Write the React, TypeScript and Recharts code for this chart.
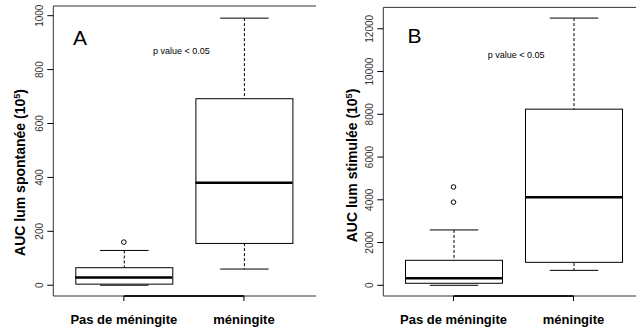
import React from 'react';
import {ComposedChart, Bar, Scatter, XAxis, YAxis, ReferenceLine, Customized} from 'recharts';

const FONT = "'Liberation Sans', Arial, Helvetica, sans-serif";

const groups = ['Pas de méningite', 'méningite'];

// A : AUC lum spontanée
const spontMin = [0, 60];
const spontQ1 = [4, 155];
const spontMedian = [29, 380];
const spontQ3 = [65, 692];
const spontMax = [129, 991];
const spontOutliers = [[160], []];
const spontTicks = [0, 200, 400, 600, 800, 1000];

// B : AUC lum stimulée
const stimMin = [0, 700];
const stimQ1 = [95, 1075];
const stimMedian = [330, 4115];
const stimQ3 = [1170, 8240];
const stimMax = [2590, 12500];
const stimOutliers = [[3890, 4600], []];
const stimTicks = [0, 2000, 4000, 6000, 8000, 10000, 12000];

function buildRows(min, q1, med, q3, max) {
	return groups.map((name, i) => ({
		name,
		whisker: [min[i], max[i]],
		box: [q1[i], q3[i]],
		median: med[i],
	}));
}

function buildOutliers(outliers) {
	const rows = [];
	outliers.forEach((vals, i) => vals.forEach((v) => rows.push({name: groups[i], value: v})));
	return rows;
}

const BOX_W = 97;

function Whisker(props) {
	const {x, y, width, height} = props;
	const top = Math.min(y, y + height);
	const bottom = Math.max(y, y + height);
	const cx = x + width / 2;
	const l = x + width / 4;
	const r = x + (width * 3) / 4;
	return (
		<g>
			<line x1={cx} x2={cx} y1={top} y2={bottom} stroke='#000' strokeDasharray='3 2'/>
			<line x1={l} x2={r} y1={top} y2={top} stroke='#000'/>
			<line x1={l} x2={r} y1={bottom} y2={bottom} stroke='#000'/>
		</g>
	);
}

function BoxShape(props) {
	const {x, y, width, height} = props;
	return (
		<rect
			x={x}
			y={Math.min(y, y + height)}
			width={width}
			height={Math.abs(height)}
			fill='#fff'
			stroke='#000'
		/>
	);
}

function MedianShape(props) {
	const {cx, cy} = props;
	return <line x1={cx - BOX_W / 2} x2={cx + BOX_W / 2} y1={cy} y2={cy} stroke='#000' strokeWidth={2.5}/>;
}

function OutlierShape(props) {
	const {cx, cy} = props;
	return <circle cx={cx} cy={cy} r={2.3} fill='#fff' stroke='#000' strokeWidth={1}/>;
}

function YTick(props) {
	const {x, y, payload} = props;
	const bx = x - 4;
	return (
		<text
			x={bx}
			y={y}
			transform={`rotate(-90 ${bx} ${y})`}
			textAnchor='middle'
			fontSize={10}
			fontFamily={FONT}
			fill='#333'
		>
			{payload.value}
		</text>
	);
}

function XTick(props) {
	const {x, y, payload} = props;
	return (
		<text x={x} y={y} dy={22.5} textAnchor='middle' fontSize={13} fontWeight='bold' fontFamily={FONT} fill='#000'>
			{payload.value}
		</text>
	);
}

function YTitle(props) {
	const {tx, ty, text} = props;
	return (
		<text
			x={tx}
			y={ty}
			transform={`rotate(-90 ${tx} ${ty})`}
			textAnchor='middle'
			fontSize={14}
			fontWeight='bold'
			fontFamily={FONT}
			fill='#000'
		>
			{text} (10<tspan dy={-5} fontSize={9}>5</tspan><tspan dy={5}>)</tspan>
		</text>
	);
}

function Notes(props) {
	const {letter, lx, ly, px, py} = props;
	return (
		<g fontFamily={FONT} fill='#000'>
			<text x={lx} y={ly} fontSize={21}>{letter}</text>
			<text x={px} y={py} fontSize={9}>p value &lt; 0.05</text>
		</g>
	);
}

function Panel(props) {
	const {width, margin, yWidth, padding, domain, ticks, rows, outliers, title, titlePos, notes} = props;
	return (
		<ComposedChart width={width} height={329} data={rows} margin={margin} barGap={-BOX_W}>
			<XAxis
				dataKey='name'
				type='category'
				allowDuplicatedCategory={false}
				padding={padding}
				height={33}
				axisLine={{stroke: '#333'}}
				tickLine={{stroke: '#000'}}
				tickSize={5}
				tickMargin={0}
				tick={<XTick/>}
				interval={0}
			/>
			<YAxis
				type='number'
				domain={domain}
				ticks={ticks}
				allowDataOverflow
				interval={0}
				width={yWidth}
				axisLine={{stroke: '#333'}}
				tickLine={{stroke: '#000'}}
				tickSize={6}
				tickMargin={0}
				tick={<YTick/>}
				label={<YTitle text={title} tx={titlePos[0]} ty={titlePos[1]}/>}
			/>
			<YAxis
				yAxisId='right'
				orientation='right'
				type='number'
				domain={domain}
				allowDataOverflow
				width={0}
				axisLine={{stroke: '#333'}}
				tick={false}
				tickLine={false}
			/>
			<ReferenceLine y={domain[1]} stroke='#333' strokeWidth={1}/>
			<ReferenceLine
				segment={[{x: groups[0], y: domain[0]}, {x: groups[1], y: domain[0]}]}
				stroke='#000'
				strokeWidth={1.8}
			/>
			<Bar dataKey='whisker' barSize={BOX_W} shape={<Whisker/>} isAnimationActive={false}/>
			<Bar dataKey='box' barSize={BOX_W} shape={<BoxShape/>} isAnimationActive={false}/>
			<Scatter dataKey='median' shape={<MedianShape/>} isAnimationActive={false}/>
			<Scatter data={outliers} dataKey='value' shape={<OutlierShape/>} isAnimationActive={false}/>
			<Customized component={<Notes {...notes}/>}/>
		</ComposedChart>
	);
}

export default function App() {
	const spontRows = buildRows(spontMin, spontQ1, spontMedian, spontQ3, spontMax);
	const stimRows = buildRows(stimMin, stimQ1, stimMedian, stimQ3, stimMax);
	return (
		<div style={{position: 'absolute', left: 0, top: 0, width: 639, height: 329, display: 'flex', background: '#fff'}}>
			<Panel
				width={320}
				margin={{top: 6, right: 4, bottom: 0, left: 0}}
				yWidth={53.3}
				padding={{left: 10.5, right: 12}}
				domain={[-40, 1036]}
				ticks={spontTicks}
				rows={spontRows}
				outliers={buildOutliers(spontOutliers)}
				title='AUC lum spontanée'
				titlePos={[25, 172.5]}
				notes={{letter: 'A', lx: 73, ly: 45, px: 153, py: 53.5}}
			/>
			<Panel
				width={319}
				margin={{top: 7.4, right: 3, bottom: 0, left: 0}}
				yWidth={63.3}
				padding={{left: 10.2, right: 2.5}}
				domain={[-500, 13000]}
				ticks={stimTicks}
				rows={stimRows}
				outliers={buildOutliers(stimOutliers)}
				title='AUC lum stimulée'
				titlePos={[37.3, 165.5]}
				notes={{letter: 'B', lx: 87.5, ly: 43.3, px: 167.7, py: 57.5}}
			/>
		</div>
	);
}
